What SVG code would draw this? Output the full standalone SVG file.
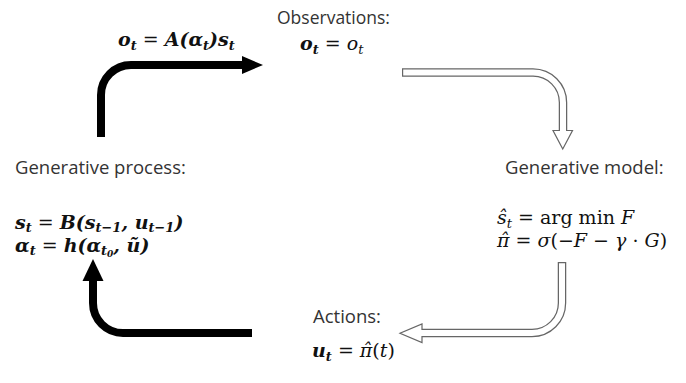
<svg xmlns="http://www.w3.org/2000/svg" width="686" height="383" viewBox="0 0 686 383">
<style>
.lbl{font-family:"Open Sans","Liberation Sans",sans-serif;font-size:18.5px;fill:#333}
.m{font-family:"DejaVu Serif","Liberation Serif",serif;font-size:19px;fill:#111}
.mb{font-weight:bold;font-style:italic}
.it{font-style:italic}
.up{font-style:normal;font-weight:normal}
.sub{font-size:13px}
.blk{fill:none;stroke:#000;stroke-width:8}
.hol-o{fill:none;stroke:#666;stroke-width:8.5}
.hol-i{fill:none;stroke:#fff;stroke-width:6}
.head{fill:#fff;stroke:#666;stroke-width:1.2;stroke-linejoin:miter}
</style>
<rect width="686" height="383" fill="#fff"/>
<g id="connectors">
  <g id="obs-arrow">
    <path class="blk" d="M101,137 V95 A30,30 0 0 1 131,65 H244"/>
    <polygon points="242,56 263,65 242,74" fill="#000"/>
    <text class="m mb" x="118" y="46">o<tspan class="sub" dy="4">t</tspan><tspan class="up" dy="-4"> = </tspan>A(α<tspan class="sub" dy="4">t</tspan><tspan dy="-4">)s</tspan><tspan class="sub" dy="4">t</tspan></text>
  </g>
  <g id="obs-to-model">
    <polygon class="head" points="553,130.5 572.5,130.5 562.75,149"/>
    <path class="hol-o" d="M402,72.5 H533 A30,30 0 0 1 563,102.5 V130.5"/>
    <path class="hol-i" d="M403.2,72.5 H533 A30,30 0 0 1 563,102.5 V132"/>
  </g>
  <g id="model-to-actions">
    <polygon class="head" points="422,324 422,342.5 400,333.25"/>
    <path class="hol-o" d="M562,262 V303 A30,30 0 0 1 532,333 H422"/>
    <path class="hol-i" d="M562,263.2 V303 A30,30 0 0 1 532,333 H420.5"/>
  </g>
  <g id="process-arrow">
    <path class="blk" d="M252,333 H123 A30,30 0 0 1 93,303 V279"/>
    <polygon points="82.5,281 93,259 103.5,281" fill="#000"/>
  </g>
</g>
<g id="observations">
  <text class="lbl" x="277" y="24" style="font-size:17.5px">Observations:</text>
  <text class="m" x="300" y="50"><tspan class="mb">o</tspan><tspan class="sub mb" dy="4">t</tspan><tspan dy="-4"> = </tspan><tspan class="it">o</tspan><tspan class="sub it" dy="4">t</tspan></text>
</g>
<g id="generative-model">
  <text class="lbl" x="505" y="174">Generative model:</text>
  <text class="m" x="497" y="224"><tspan class="it">ŝ</tspan><tspan class="sub it" dy="4">t</tspan><tspan dy="-4"> = arg min </tspan><tspan class="it">F</tspan></text>
  <text class="m" x="497" y="247"><tspan class="it">π̂</tspan> = <tspan class="it">σ</tspan>(−<tspan class="it">F</tspan> − <tspan class="it">γ</tspan> · <tspan class="it">G</tspan>)</text>
</g>
<g id="actions">
  <text class="lbl" x="313" y="323">Actions:</text>
  <text class="m" x="312" y="357"><tspan class="mb">u</tspan><tspan class="sub mb" dy="4">t</tspan><tspan dy="-4"> = </tspan><tspan class="it">π̂</tspan>(<tspan class="it">t</tspan>)</text>
</g>
<g id="generative-process">
  <text class="lbl" x="15" y="174">Generative process:</text>
  <text class="m mb" x="15" y="229">s<tspan class="sub" dy="3">t</tspan><tspan class="up" dy="-3"> = </tspan>B(s<tspan class="sub" dy="3">t−1</tspan><tspan dy="-3">, u</tspan><tspan class="sub" dy="3">t−1</tspan><tspan dy="-3">)</tspan></text>
  <text class="m mb" x="15" y="252">α<tspan class="sub" dy="3">t</tspan><tspan class="up" dy="-3"> = </tspan>h(α<tspan class="sub" dy="3">t<tspan font-size="9" dy="2">0</tspan></tspan><tspan dy="-5">, ũ)</tspan></text>
</g>
</svg>
